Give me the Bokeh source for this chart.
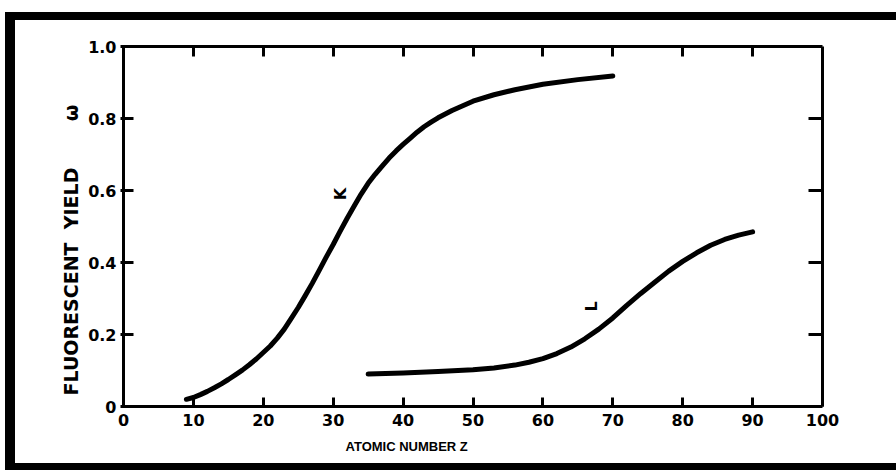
from bokeh.plotting import figure
from bokeh.models import Range1d, LinearAxis, FixedTicker, Title
from bokeh.embed import file_html
from bokeh.resources import INLINE
from bokeh.core.properties import value

# ---- data ----
z_k = [9, 10, 11, 12, 13, 14, 15, 16, 17, 18, 19, 20, 21, 22, 23, 24, 25, 26, 27, 28, 29,
       30, 31, 32, 33, 34, 35, 36, 37, 38, 39, 40, 41, 42, 43, 44, 45, 47, 50, 53, 56,
       60, 65, 70]
w_k = [0.02, 0.025, 0.033, 0.042, 0.052, 0.063, 0.075, 0.088, 0.101, 0.116, 0.132, 0.15,
       0.168, 0.19, 0.215, 0.245, 0.275, 0.308, 0.342, 0.378, 0.415, 0.45, 0.487, 0.523,
       0.557, 0.59, 0.62, 0.645, 0.668, 0.69, 0.71, 0.728, 0.745, 0.762, 0.777, 0.79,
       0.802, 0.822, 0.848, 0.866, 0.88, 0.895, 0.908, 0.918]
z_l = [35, 40, 45, 50, 53, 56, 58, 60, 62, 64, 66, 68, 70, 72, 74, 76, 78, 80, 82, 84,
       86, 88, 90]
w_l = [0.09, 0.093, 0.097, 0.102, 0.107, 0.115, 0.123, 0.133, 0.147, 0.165, 0.188, 0.215,
       0.246, 0.281, 0.314, 0.345, 0.376, 0.403, 0.427, 0.448, 0.464, 0.476, 0.485]

x_ticks = [0, 10, 20, 30, 40, 50, 60, 70, 80, 90, 100]
y_ticks = [0, 0.2, 0.4, 0.6, 0.8, 1.0]
y_tick_labels = ["0", "0.2", "0.4", "0.6", "0.8", "1.0"]
inner_x_ticks = [10, 20, 30, 40, 50, 60, 70, 80, 90]
inner_y_ticks = [0.2, 0.4, 0.6, 0.8]

curve_label_text = ["K", "L"]
curve_label_x = [31, 67]
curve_label_y = [0.59, 0.278]

FONT = "DejaVu Sans"
NB = "\u00a0"

# content box 881x443; the canvas is measured including the CSS borders,
# so the extra 10px (right) / 15px (bottom) are absorbed by min_border.
p = figure(width=881, height=443, output_backend="svg", toolbar_location=None,
           x_range=Range1d(0, 100), y_range=Range1d(0, 1.0),
           min_border_left=108, min_border_right=84, min_border_top=26, min_border_bottom=72,
           x_axis_type=None, y_axis_type=None)
p.title.visible = False
p.grid.visible = False
p.outline_line_color = None
p.background_fill_color = "white"
p.border_fill_color = "white"
p.styles = {
    "box-sizing": "content-box",
    "margin-left": "5px", "margin-top": "12px",
    "border-left": "10px solid black",
    "border-top": "8px solid black",
    "border-bottom": "7px solid black",
    "border-right": "0px",
}

def style_axis(ax, tin, tout, show_labels):
    ax.axis_line_width = 3
    ax.axis_line_color = "black"
    ax.major_tick_line_width = 3
    ax.major_tick_line_color = "black"
    ax.major_tick_in = tin
    ax.major_tick_out = tout
    ax.minor_tick_line_color = None
    ax.major_label_text_font = FONT
    ax.major_label_text_font_style = "bold"
    ax.major_label_text_font_size = "16px"
    ax.major_label_text_color = "black" if show_labels else None

xb = LinearAxis(ticker=FixedTicker(ticks=x_ticks))
style_axis(xb, 9, 0, True)
xb.major_label_standoff = 7
p.add_layout(xb, "below")

yl = LinearAxis(ticker=FixedTicker(ticks=y_ticks))
style_axis(yl, 10, 3, True)
yl.major_label_standoff = 4
yl.major_label_overrides = {t: s for t, s in zip(y_ticks, y_tick_labels)}
p.add_layout(yl, "left")

xt = LinearAxis(ticker=FixedTicker(ticks=inner_x_ticks))
style_axis(xt, 10, 0, False)
xt.major_label_text_font_size = "0px"
xt.major_label_standoff = 0
p.add_layout(xt, "above")

yr = LinearAxis(ticker=FixedTicker(ticks=inner_y_ticks))
style_axis(yr, 14, 0, False)
yr.major_label_text_font_size = "0px"
yr.major_label_standoff = 0
p.add_layout(yr, "right")

xtitle = Title(text="ATOMIC NUMBER Z", align="left", offset=222,
               text_font="Liberation Sans", text_font_style="bold", text_font_size="13px",
               text_color="black", standoff=16)
p.add_layout(xtitle, "below")

ytitle = Title(text="FLUORESCENT" + NB * 2 + "YIELD" + NB * 7 + "\u03c9", align="left", offset=11,
               text_font=FONT, text_font_style="bold", text_font_size="19px",
               text_color="black", standoff=8)
p.add_layout(ytitle, "left")

p.line(z_k, w_k, line_width=5, line_color="black", line_cap="round", line_join="round")
p.line(z_l, w_l, line_width=5, line_color="black", line_cap="round", line_join="round")

p.text(x=curve_label_x, y=curve_label_y, text=curve_label_text,
       text_font=value(FONT), text_font_style="bold", text_font_size="16px",
       text_align="center", text_baseline="middle", text_color="black", angle=1.5708)

open("out.html", "w").write(file_html(p, INLINE))
